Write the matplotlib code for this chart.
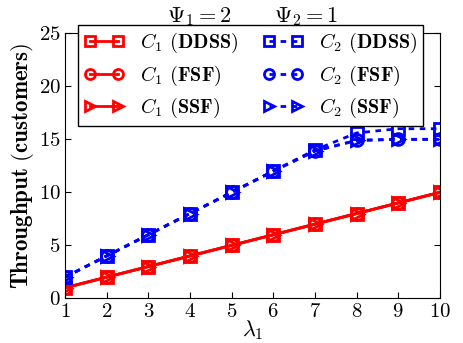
import matplotlib
matplotlib.use('agg')
import matplotlib.pyplot as plt

lam = [1, 2, 3, 4, 5, 6, 7, 8, 9, 10]
c1_ddss = [1, 2, 3, 4, 5, 6, 7, 8, 9, 10]
c1_fsf = [1, 2, 3, 4, 5, 6, 7, 8, 9, 10]
c1_ssf = [1, 2, 3, 4, 5, 6, 7, 8, 9, 10]
c2_ddss = [2, 4, 6, 8, 10, 12, 14, 15.6, 16, 16]
c2_fsf = [2, 4, 6, 8, 10, 12, 13.9, 14.9, 15, 15]
c2_ssf = [2, 4, 6, 8, 10, 12, 13.9, 14.9, 15, 15]

plt.rcParams['mathtext.fontset'] = 'cm'
plt.rcParams['font.family'] = 'cmr10'
plt.rcParams['axes.formatter.use_mathtext'] = True

fig = plt.figure(figsize=(4.64, 3.43), dpi=100)
ax = fig.add_axes([0.14, 0.13, 0.808, 0.773])

kw = dict(markersize=8.5, markerfacecolor='none', markeredgewidth=2, linewidth=2)
ax.plot(lam, c1_ddss, 's-', color='red', label=r'$C_1$ $\mathbf{(DDSS)}$', **kw)
ax.plot(lam, c1_fsf, 'o-', color='red', label=r'$C_1$ $\mathbf{(FSF)}$', **kw)
ax.plot(lam, c1_ssf, '>-', color='red', label=r'$C_1$ $\mathbf{(SSF)}$', **kw)
ax.plot(lam, c2_ddss, 's--', color='blue', label=r'$C_2$ $\mathbf{(DDSS)}$', dashes=(2, 2), **kw)
ax.plot(lam, c2_fsf, 'o--', color='blue', label=r'$C_2$ $\mathbf{(FSF)}$', dashes=(2, 2), **kw)
ax.plot(lam, c2_ssf, '>--', color='blue', label=r'$C_2$ $\mathbf{(SSF)}$', dashes=(2, 2), **kw)

ax.set_xlim(1, 10)
ax.set_ylim(0, 25)
ax.set_xticks(lam)
ax.set_yticks([0, 5, 10, 15, 20, 25])
ax.tick_params(direction='in', top=True, right=True, labelsize=15, length=4, pad=3)
ax.set_xlabel(r'$\lambda_1$', fontsize=16, labelpad=-2)
ax.set_ylabel(r'$\mathbf{Throughput\ (customers)}$', fontsize=16.5, labelpad=2)

leg = ax.legend(ncol=2, loc='upper center', bbox_to_anchor=(0.495, 1.03), fontsize=14.5,
                fancybox=False, edgecolor='black', framealpha=1, handlelength=2.0,
                numpoints=2, markerscale=0.85, columnspacing=1.2, borderpad=0.3,
                labelspacing=0.4, handletextpad=0.8, borderaxespad=0)
leg.get_frame().set_linewidth(1)

fig.text(0.43, 0.953, r'$\Psi_1=2$', fontsize=16, ha='center', va='center')
fig.text(0.66, 0.953, r'$\Psi_2=1$', fontsize=16, ha='center', va='center')

fig.savefig('out.png', dpi=100)
